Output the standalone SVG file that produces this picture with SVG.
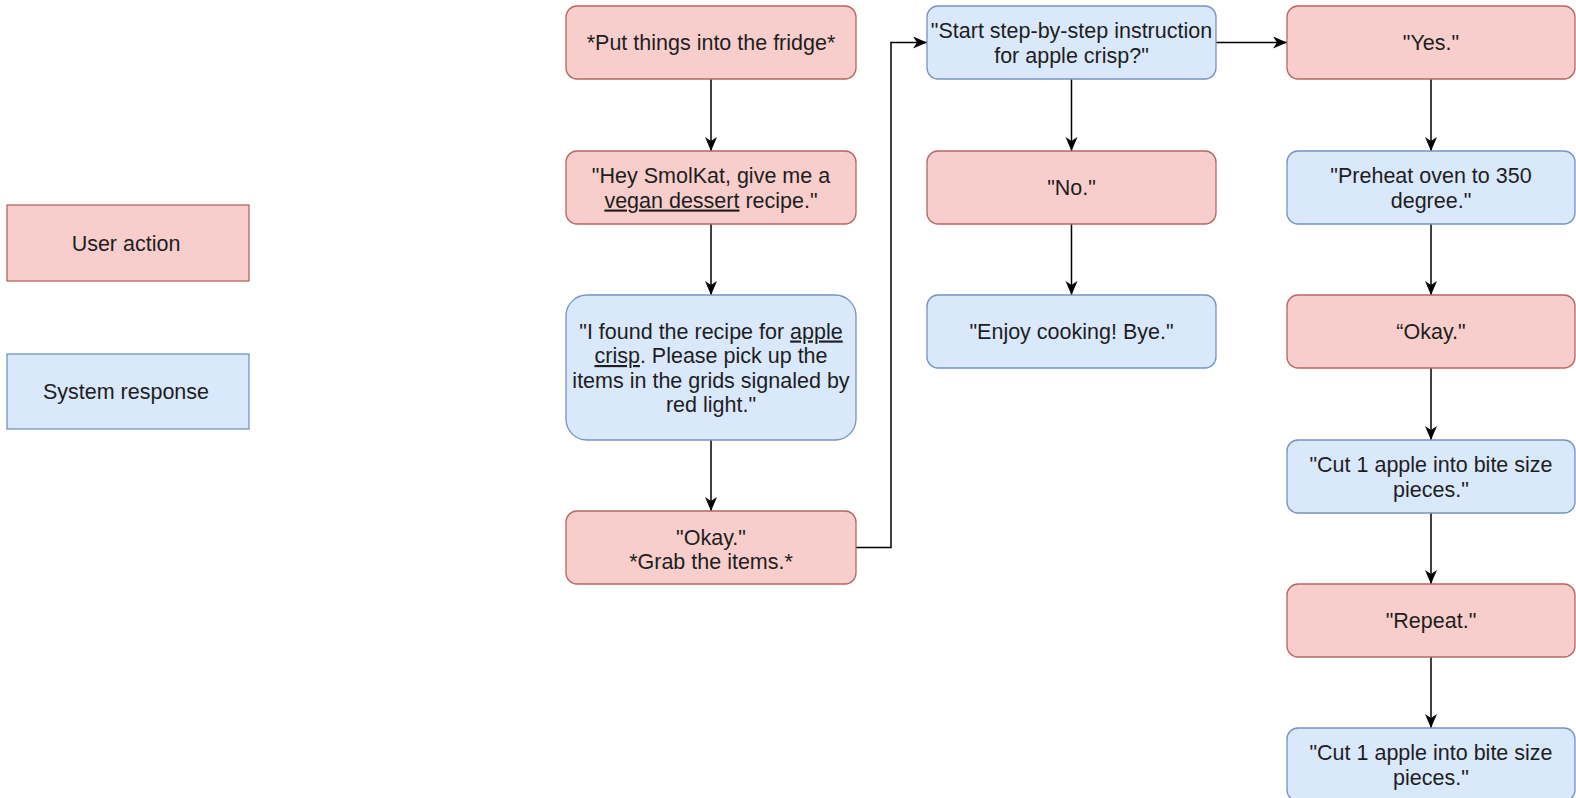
<svg xmlns="http://www.w3.org/2000/svg" width="1576" height="798" viewBox="0 0 1576 798">
<style>
.u{fill:#f8cecc;stroke:#b66663;stroke-width:1.3}
.s{fill:#dae8fc;stroke:#7592c2;stroke-width:1.3}
text{font-family:"Liberation Sans",Arial,Helvetica,sans-serif;font-size:21.5px;fill:#1e1e1e;text-anchor:middle}
.c{fill:none;stroke:#000;stroke-width:1.5;marker-end:url(#a)}
</style>
<defs>
<marker id="a" markerUnits="userSpaceOnUse" markerWidth="16" markerHeight="14" refX="14" refY="6" orient="auto">
<path d="M0,0 L14,6 L0,12 L4,6 Z" fill="#000"/>
</marker>
</defs>
<rect width="1576" height="798" fill="#fff"/>
<g id="legend-user"><rect class="u" x="7" y="205" width="242" height="76"/><text x="126" y="250.5">User action</text></g>
<g id="legend-system"><rect class="s" x="7" y="354" width="242" height="75"/><text x="126" y="399">System response</text></g>

<g id="connectors">
<path class="c" d="M711,79 V151"/>
<path class="c" d="M711,224 V295"/>
<path class="c" d="M711,440 V511"/>
<path class="c" d="M856,547.5 H891 V42.5 H927"/>
<path class="c" d="M1071.5,79 V151"/>
<path class="c" d="M1071.5,224 V295"/>
<path class="c" d="M1216,42.5 H1287"/>
<path class="c" d="M1431,79 V151"/>
<path class="c" d="M1431,224 V295"/>
<path class="c" d="M1431,368 V440"/>
<path class="c" d="M1431,513 V584"/>
<path class="c" d="M1431,657 V728"/>
</g>

<g id="n1"><rect class="u" x="566" y="6" width="290" height="73" rx="11"/><text x="711" y="50">*Put things into the fridge*</text></g>
<g id="n2"><rect class="u" x="566" y="151" width="290" height="73" rx="11"/><text><tspan x="711" y="183">"Hey SmolKat, give me a</tspan><tspan x="711" y="207.5"><tspan text-decoration="underline">vegan dessert</tspan> recipe."</tspan></text></g>
<g id="n3"><rect class="s" x="566" y="295" width="290" height="145" rx="21"/><text><tspan x="711" y="338.5">"I found the recipe for <tspan text-decoration="underline">apple</tspan></tspan><tspan x="711" y="363"><tspan text-decoration="underline">crisp</tspan>. Please pick up the</tspan><tspan x="711" y="387.5">items in the grids signaled by</tspan><tspan x="711" y="412">red light."</tspan></text></g>
<g id="n4"><rect class="u" x="566" y="511" width="290" height="73" rx="11"/><text><tspan x="711" y="544.5">"Okay."</tspan><tspan x="711" y="569">*Grab the items.*</tspan></text></g>

<g id="n5"><rect class="s" x="927" y="6" width="289" height="73" rx="11"/><text><tspan x="1071.5" y="38">"Start step-by-step instruction</tspan><tspan x="1071.5" y="62.5">for apple crisp?"</tspan></text></g>
<g id="n6"><rect class="u" x="927" y="151" width="289" height="73" rx="11"/><text x="1071.5" y="195">"No."</text></g>
<g id="n7"><rect class="s" x="927" y="295" width="289" height="73" rx="11"/><text x="1071.5" y="339">"Enjoy cooking! Bye."</text></g>

<g id="n8"><rect class="u" x="1287" y="6" width="288" height="73" rx="11"/><text x="1431" y="50">"Yes."</text></g>
<g id="n9"><rect class="s" x="1287" y="151" width="288" height="73" rx="11"/><text><tspan x="1431" y="183">"Preheat oven to 350</tspan><tspan x="1431" y="207.5">degree."</tspan></text></g>
<g id="n10"><rect class="u" x="1287" y="295" width="288" height="73" rx="11"/><text x="1431" y="339">“Okay."</text></g>
<g id="n11"><rect class="s" x="1287" y="440" width="288" height="73" rx="11"/><text><tspan x="1431" y="472">"Cut 1 apple into bite size</tspan><tspan x="1431" y="496.5">pieces."</tspan></text></g>
<g id="n12"><rect class="u" x="1287" y="584" width="288" height="73" rx="11"/><text x="1431" y="628">"Repeat."</text></g>
<g id="n13"><rect class="s" x="1287" y="728" width="288" height="73" rx="11"/><text><tspan x="1431" y="760">"Cut 1 apple into bite size</tspan><tspan x="1431" y="784.5">pieces."</tspan></text></g>
</svg>
